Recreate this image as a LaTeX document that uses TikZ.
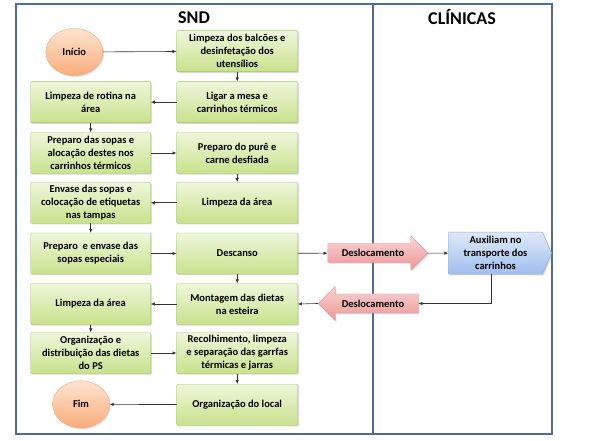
\documentclass[tikz,border=0pt]{standalone}
\usepackage{fontspec}
\setmainfont{Carlito}
\usetikzlibrary{shapes.geometric,shapes.arrows,shapes.symbols,shadows,arrows.meta}
\definecolor{frameblue}{RGB}{79,107,150}
\definecolor{gtop}{RGB}{238,246,218}
\definecolor{gbot}{RGB}{200,226,140}
\definecolor{gborder}{RGB}{160,196,100}
\definecolor{otop}{RGB}{253,228,208}
\definecolor{obot}{RGB}{248,172,122}
\definecolor{oborder}{RGB}{246,166,118}
\definecolor{rtop}{RGB}{250,212,212}
\definecolor{rbot}{RGB}{236,150,150}
\definecolor{rborder}{RGB}{222,150,150}
\definecolor{btop}{RGB}{222,233,250}
\definecolor{bbot}{RGB}{160,190,236}
\definecolor{bborder}{RGB}{140,172,215}
\begin{document}
\begin{tikzpicture}[x=1pt,y=-1pt,
  txt/.style={font=\bfseries\fontsize{10.5}{13}\selectfont, align=center},
  shad/.style={drop shadow={shadow xshift=1.2pt,shadow yshift=-1.2pt,opacity=0.3}},
  box/.style={txt, shad, draw=gborder, top color=gtop, bottom color=gbot,
    rounded corners=1pt, minimum width=120pt, minimum height=41pt, inner sep=1pt},
  oval/.style={txt, shad, ellipse, draw=oborder, top color=otop, bottom color=obot,
    minimum width=57pt, minimum height=47pt, inner sep=0pt},
  blockarrow/.style={txt, shad, single arrow, draw=rborder, top color=rtop, bottom color=rbot,
    minimum height=100pt, minimum width=34pt, single arrow head extend=7pt,
    inner xsep=2pt, inner ysep=5pt},
  conn/.style={draw=black!80, line width=0.6pt, -{Latex[length=4pt,width=3.5pt]}},
  title/.style={font=\bfseries\fontsize{18}{20}\selectfont}
]
\useasboundingbox (0,0) rectangle (595,441);
% frame
\draw[frameblue, line width=1.2pt] (16,4) rectangle (552,434);
\draw[frameblue, line width=1.2pt] (373,4) -- (373,434);
\node[title] (tsnd) at (194,17.5) {SND};
\node[title] (tcli) at (462,17) {CLÍNICAS};
% nodes
\node[oval] (ini) at (74.3,52) {Início};
\node[box, minimum width=121pt] (r1) at (237.2,51.2) {Limpeza dos balcões e\\desinfetação dos\\utensílios};
\node[box] (l2) at (90.7,102.2) {Limpeza de rotina na\\área};
\node[box, minimum width=121pt] (r2) at (237.2,102.2) {Ligar a mesa e\\carrinhos térmicos};
\node[box] (l3) at (90.7,153) {Preparo das sopas e\\alocação destes nos\\carrinhos térmicos};
\node[box, minimum width=121pt] (r3) at (237.2,153) {Preparo do purê e\\carne desfiada};
\node[box] (l4) at (90.7,202.8) {Envase das sopas e\\colocação de etiquetas\\nas tampas};
\node[box, minimum width=121pt] (r4) at (237.2,202.8) {Limpeza da área};
\node[box] (l5) at (90.7,253.5) {Preparo~ e envase das\\sopas especiais};
\node[box, minimum width=121pt] (r5) at (237.2,253.5) {Descanso};
\node[box] (l6) at (90.7,304) {Limpeza da área};
\node[box, minimum width=121pt] (r6) at (237.2,304) {Montagem das dietas\\na esteira};
\node[box] (l7) at (90.7,353) {Organização e\\distribuição das dietas\\do PS};
\node[box, minimum width=121pt] (r7) at (237.2,353) {Recolhimento, limpeza\\e separação das garrfas\\térmicas e jarras};
\node[box, minimum width=121pt] (r8) at (237.2,404.7) {Organização do local};
\node[oval] (fim) at (81,404.3) {Fim};
% block arrows
\node[blockarrow] (d1) at (373,253) {Deslocamento};
\node[blockarrow, shape border rotate=180] (d2) at (373,303.5) {Deslocamento};
\node[txt, shad, signal, signal to=east, signal pointer angle=134, draw=bborder,
  top color=btop, bottom color=bbot, minimum width=103pt, minimum height=42pt, inner sep=1pt]
  (aux) at (495.5,253.2) {Auxiliam no\\transporte dos\\carrinhos};
% connectors
\draw[conn] (ini) -- (r1);
\draw[conn] (r1) -- (r2);
\draw[conn] (r2) -- (l2);
\draw[conn] (l2) -- (l3);
\draw[conn] (l3) -- (r3);
\draw[conn] (r3) -- (r4);
\draw[conn] (r4) -- (l4);
\draw[conn] (l4) -- (l5);
\draw[conn] (l5) -- (r5);
\draw[conn] (r5) -- (d1);
\draw[conn] (d1) -- (aux);
\draw[conn] (r5) -- (r6);
\draw[conn] ([xshift=-4pt]aux.south) |- (d2.east);
\draw[conn] (d2.tip) -- (r6.east);
\draw[conn] (r6) -- (l6);
\draw[conn] (l6) -- (l7);
\draw[conn] (l7) -- (r7);
\draw[conn] (r7) -- (r8);
\draw[conn] (r8) -- (fim);
\end{tikzpicture}
\end{document}
